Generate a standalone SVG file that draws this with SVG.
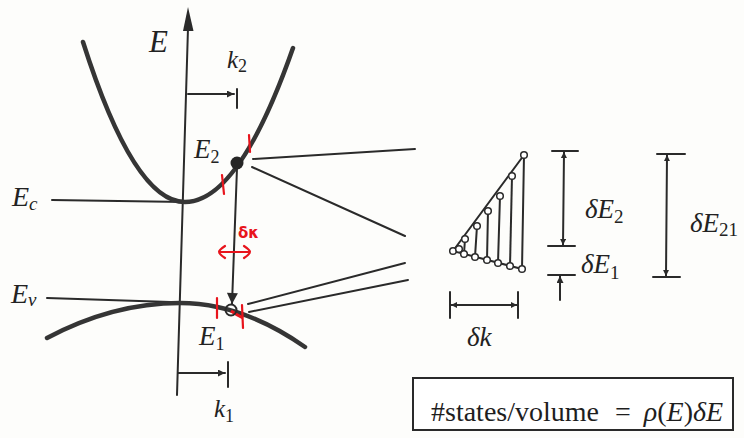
<svg xmlns="http://www.w3.org/2000/svg" width="744" height="438" viewBox="0 0 744 438">
<defs>
<style>
.thin{stroke:#2a2a2a;stroke-width:2;fill:none;stroke-linecap:round}
.thick{stroke:#353535;stroke-width:4.5;fill:none;stroke-linecap:round}
.red{stroke:#e8141c;stroke-width:2.2;fill:none;stroke-linecap:round}
.lbl{font-family:"Liberation Serif",serif;font-style:italic;fill:#222}
.s{font-style:normal}
.dot{fill:#fff;stroke:#2a2a2a;stroke-width:1.5}
</style>
<marker id="ah" viewBox="0 0 10 10" refX="10" refY="5" markerWidth="10" markerHeight="7" markerUnits="userSpaceOnUse" orient="auto">
<path d="M0,0 L10,5 L0,10 Z" fill="#2a2a2a"/>
</marker>
<marker id="ahb" viewBox="0 0 10 10" refX="10" refY="5" markerWidth="16" markerHeight="11" markerUnits="userSpaceOnUse" orient="auto">
<path d="M0,0 L10,5 L0,10 Z" fill="#2a2a2a"/>
</marker>
<marker id="ahs" viewBox="0 0 10 10" refX="10" refY="5" markerWidth="9" markerHeight="6" markerUnits="userSpaceOnUse" orient="auto-start-reverse">
<path d="M0,0 L10,5 L0,10 Z" fill="#2a2a2a"/>
</marker>
</defs>
<rect width="744" height="438" fill="#fdfdfb"/>

<g id="axes">
<line class="thin" x1="188" y1="28" x2="177" y2="395"/>
<path d="M188,7 L193.5,31 L183,31 Z" fill="#2a2a2a"/>
<text class="lbl" x="149" y="52" font-size="31">E</text>
</g>

<g id="conduction-band">
<line class="thin" x1="52" y1="200" x2="185" y2="202"/>
<path class="thick" d="M83,42 Q134,202 185,202 Q239,202 293,48"/>
<text class="lbl" x="12" y="206" font-size="28">E<tspan dy="4" font-size="19">c</tspan></text>
</g>

<g id="valence-band">
<line class="thin" x1="47" y1="298" x2="170" y2="302"/>
<path class="thick" d="M47,338 Q113,303 180,303 Q242,303 305,347"/>
<text class="lbl" x="11" y="303" font-size="28">E<tspan dy="3" font-size="19">v</tspan></text>
</g>

<g id="k2">
<line class="thin" x1="188" y1="94" x2="234" y2="94" marker-end="url(#ah)"/>
<line class="thin" x1="237" y1="89" x2="237" y2="108"/>
<text class="lbl" x="227" y="68" font-size="25">k<tspan class="s" dy="4" font-size="18">2</tspan></text>
</g>

<g id="k1">
<line class="thin" x1="178" y1="373" x2="225" y2="373" marker-end="url(#ah)"/>
<line class="thin" x1="228" y1="362" x2="228" y2="387"/>
<text class="lbl" x="214" y="417" font-size="25">k<tspan class="s" dy="5" font-size="18">1</tspan></text>
</g>

<g id="E2">
<line class="red" x1="222" y1="175" x2="224" y2="194"/>
<line class="red" x1="249" y1="135" x2="250" y2="152"/>
<circle cx="237" cy="163" r="6.5" fill="#262626"/>
<text class="lbl" x="194" y="158" font-size="27">E<tspan class="s" dy="5" font-size="18">2</tspan></text>
</g>

<g id="E1">
<line class="red" x1="217" y1="298" x2="217" y2="318"/>
<line class="red" x1="242" y1="305" x2="243" y2="328"/>
<path d="M231,311 Q237,315 243,318" stroke="#e8141c" stroke-width="3" fill="none"/>
<circle cx="231" cy="310" r="5.5" fill="none" stroke="#2a2a2a" stroke-width="2"/>
<text class="lbl" x="199" y="345" font-size="27">E<tspan class="s" dy="5" font-size="18">1</tspan></text>
</g>

<g id="transition">
<line class="thin" x1="237" y1="168" x2="232" y2="304" marker-end="url(#ahb)"/>
<text x="238" y="238" font-family="DejaVu Sans, sans-serif" font-size="15" font-weight="bold" fill="#e8141c">δκ</text>
<path class="red" d="M219,252 L250,252 M225,246 Q219,250 219,252 Q219,254 225,258 M244,246 Q250,250 250,252 Q250,254 244,258"/>
</g>

<g id="connectors">
<line class="thin" x1="253" y1="159" x2="415" y2="149"/>
<line class="thin" x1="252" y1="167" x2="405" y2="236"/>
<line class="thin" x1="248" y1="304" x2="405" y2="263"/>
<line class="thin" x1="249" y1="312" x2="408" y2="280"/>
</g>

<g id="lattice">
<line class="thin" x1="453" y1="251" x2="524" y2="155"/>
<line class="thin" x1="453" y1="251" x2="522" y2="269"/>
<line class="thin" x1="524" y1="155" x2="522" y2="269"/>
<line class="thin" x1="465" y1="239" x2="464" y2="254"/>
<line class="thin" x1="477" y1="226" x2="475" y2="257"/>
<line class="thin" x1="488" y1="211" x2="487" y2="260"/>
<line class="thin" x1="500" y1="196" x2="498" y2="263"/>
<line class="thin" x1="512" y1="176" x2="510" y2="266"/>
<circle class="dot" cx="453" cy="251" r="3.3"/>
<circle class="dot" cx="459" cy="249" r="3.3"/>
<circle class="dot" cx="465" cy="239" r="3.3"/>
<circle class="dot" cx="477" cy="226" r="3.3"/>
<circle class="dot" cx="488" cy="211" r="3.3"/>
<circle class="dot" cx="500" cy="196" r="3.3"/>
<circle class="dot" cx="512" cy="176" r="3.3"/>
<circle class="dot" cx="524" cy="155" r="3.3"/>
<circle class="dot" cx="464" cy="254" r="3.3"/>
<circle class="dot" cx="475" cy="257" r="3.3"/>
<circle class="dot" cx="487" cy="260" r="3.3"/>
<circle class="dot" cx="498" cy="263" r="3.3"/>
<circle class="dot" cx="510" cy="266" r="3.3"/>
<circle class="dot" cx="522" cy="269" r="3.3"/>
</g>

<g id="dk">
<line class="thin" x1="450" y1="292" x2="450" y2="318"/>
<line class="thin" x1="518" y1="292" x2="518" y2="318"/>
<line class="thin" x1="451" y1="305" x2="517" y2="305" marker-start="url(#ahs)" marker-end="url(#ahs)"/>
<text class="lbl" x="467" y="346" font-size="27">δk</text>
</g>

<g id="dE2">
<line class="thin" x1="552" y1="151" x2="578" y2="151"/>
<line class="thin" x1="548" y1="246" x2="575" y2="246"/>
<line class="thin" x1="564" y1="152" x2="563" y2="245" marker-start="url(#ahs)" marker-end="url(#ahs)"/>
<text class="lbl" x="585" y="218" font-size="27">δE<tspan class="s" dy="5" font-size="19">2</tspan></text>
</g>

<g id="dE1">
<line class="thin" x1="548" y1="275" x2="575" y2="275"/>
<line class="thin" x1="560" y1="300" x2="560" y2="276" marker-end="url(#ah)"/>
<text class="lbl" x="581" y="273" font-size="27">δE<tspan class="s" dy="6" font-size="19">1</tspan></text>
</g>

<g id="dE21">
<line class="thin" x1="657" y1="154" x2="685" y2="154"/>
<line class="thin" x1="653" y1="277" x2="680" y2="277"/>
<line class="thin" x1="667" y1="155" x2="666" y2="276" marker-start="url(#ahs)" marker-end="url(#ahs)"/>
<text class="lbl" x="690" y="232" font-size="27">δE<tspan class="s" dy="4" font-size="19">21</tspan></text>
</g>

<g id="formula">
<rect x="413" y="378" width="320" height="52" fill="#fff" stroke="#2a2a2a" stroke-width="2"/>
<text x="431" y="421" font-family="Liberation Serif, serif" font-size="28" fill="#1e1e1e">#states/volume<tspan dx="16">=</tspan><tspan dx="13" font-style="italic">ρ</tspan>(<tspan font-style="italic">E</tspan>)<tspan font-style="italic">δE</tspan></text>
</g>
</svg>
